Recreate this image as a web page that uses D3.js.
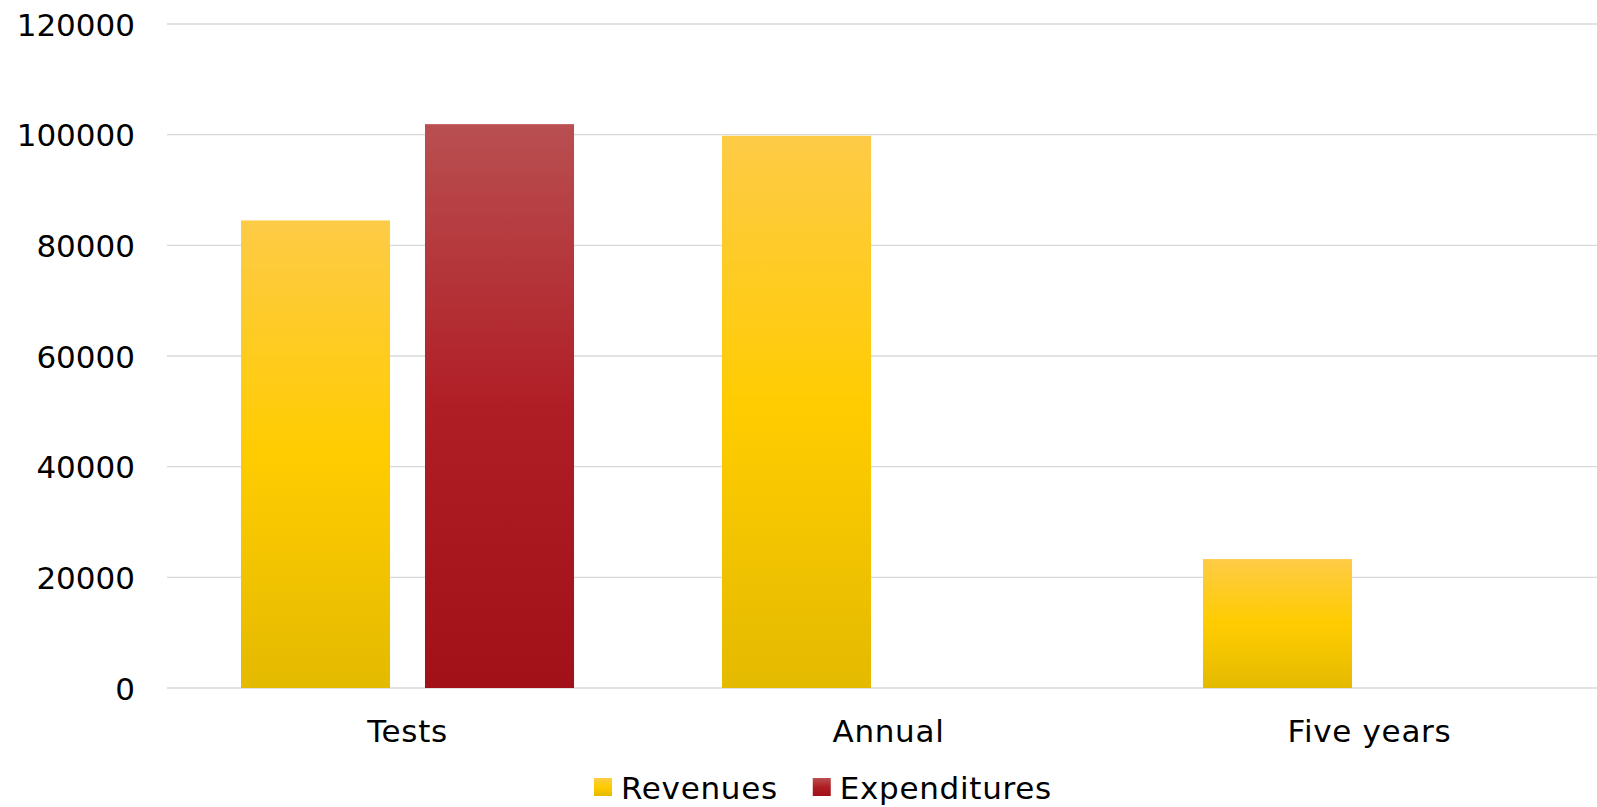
<!DOCTYPE html>
<html>
<head>
<meta charset="utf-8">
<script src="https://cdn.jsdelivr.net/npm/d3@7"></script>
<style>
  html, body { margin: 0; padding: 0; background: #fff; }
  svg { display: block; font-family: "DejaVu Sans", Verdana, sans-serif; }
</style>
</head>
<body>
<svg id="chart" width="1597" height="807"></svg>
<script>
// Chart data
const categories = ["Tests", "Annual", "Five years"];
const seriesNames = ["Revenues", "Expenditures"];
const revenues = [84500, 99800, 23300];
const expenditures = [101900, null, null];
const yTicks = [0, 20000, 40000, 60000, 80000, 100000, 120000];

const svg = d3.select("#chart");
const plot = { left: 167, right: 1610, top: 24, bottom: 688 };
const fontSize = 31;
const letterSpacing = 0.7;

// Gradient definitions for each series
const defs = svg.append("defs");
const gradients = {
  Revenues: ["#FECB47", "#FFCC00", "#E4BA00"],
  Expenditures: ["#B94F51", "#B01E25", "#A21117"]
};
Object.entries(gradients).forEach(([name, stops]) => {
  const g = defs.append("linearGradient")
    .attr("id", "grad-" + name)
    .attr("x1", 0).attr("y1", 0).attr("x2", 0).attr("y2", 1);
  stops.forEach((c, i) => {
    g.append("stop").attr("offset", (i / (stops.length - 1) * 100) + "%").attr("stop-color", c);
  });
});

// Scales
const x0 = d3.scaleBand().domain(categories).range([plot.left, plot.right]).padding(0);
const x1 = d3.scaleBand().domain(seriesNames).range([0, x0.bandwidth()])
  .paddingInner(0.19).paddingOuter(0.402);
const y = d3.scaleLinear().domain([0, 120000]).range([plot.bottom, plot.top]);

// Gridlines
svg.append("g")
  .selectAll("line")
  .data(yTicks)
  .join("line")
  .attr("x1", plot.left).attr("x2", plot.right)
  .attr("y1", d => y(d)).attr("y2", d => y(d))
  .attr("stroke", "#D9D9D9")
  .attr("stroke-width", 1.4);

// Y axis labels
const yAxis = d3.axisLeft(y).tickValues(yTicks).tickSize(0).tickPadding(0).tickFormat(d3.format("d"));
const yg = svg.append("g").attr("transform", `translate(135,0)`).call(yAxis);
yg.select(".domain").remove();
yg.selectAll("text")
  .attr("font-size", fontSize)
  .attr("font-family", "DejaVu Sans, Verdana, sans-serif")
  .attr("fill", "#000")
  .attr("dy", "0.36em");

// Bars
const rows = categories.map((c, i) => ({
  category: c,
  values: [
    { series: "Revenues", value: revenues[i] },
    { series: "Expenditures", value: expenditures[i] }
  ].filter(d => d.value != null)
}));

svg.append("g")
  .selectAll("g")
  .data(rows)
  .join("g")
  .attr("transform", d => `translate(${x0(d.category)},0)`)
  .selectAll("rect")
  .data(d => d.values)
  .join("rect")
  .attr("x", d => x1(d.series))
  .attr("width", x1.bandwidth())
  .attr("y", d => y(d.value))
  .attr("height", d => y(0) - y(d.value))
  .attr("fill", d => `url(#grad-${d.series})`);

// Category labels
const xAxis = d3.axisBottom(x0).tickSize(0).tickPadding(0);
const xg = svg.append("g").attr("transform", `translate(0,${plot.bottom})`).call(xAxis);
xg.select(".domain").remove();
xg.selectAll("text")
  .attr("font-size", fontSize)
  .attr("font-family", "DejaVu Sans, Verdana, sans-serif")
  .attr("letter-spacing", letterSpacing)
  .attr("fill", "#000")
  .attr("dy", null)
  .attr("y", 54);

// Legend
const legend = svg.append("g").attr("transform", "translate(594,799)");
let lx = 0;
seriesNames.forEach(name => {
  const item = legend.append("g").attr("transform", `translate(${lx},0)`);
  item.append("rect")
    .attr("x", 0).attr("y", -21).attr("width", 18).attr("height", 18)
    .attr("fill", `url(#grad-${name})`);
  const t = item.append("text")
    .attr("x", 27).attr("y", 0)
    .attr("font-size", fontSize)
    .attr("letter-spacing", letterSpacing)
    .attr("fill", "#000")
    .text(name);
  lx += 27 + t.node().getComputedTextLength() + 35;
});
</script>
</body>
</html>
